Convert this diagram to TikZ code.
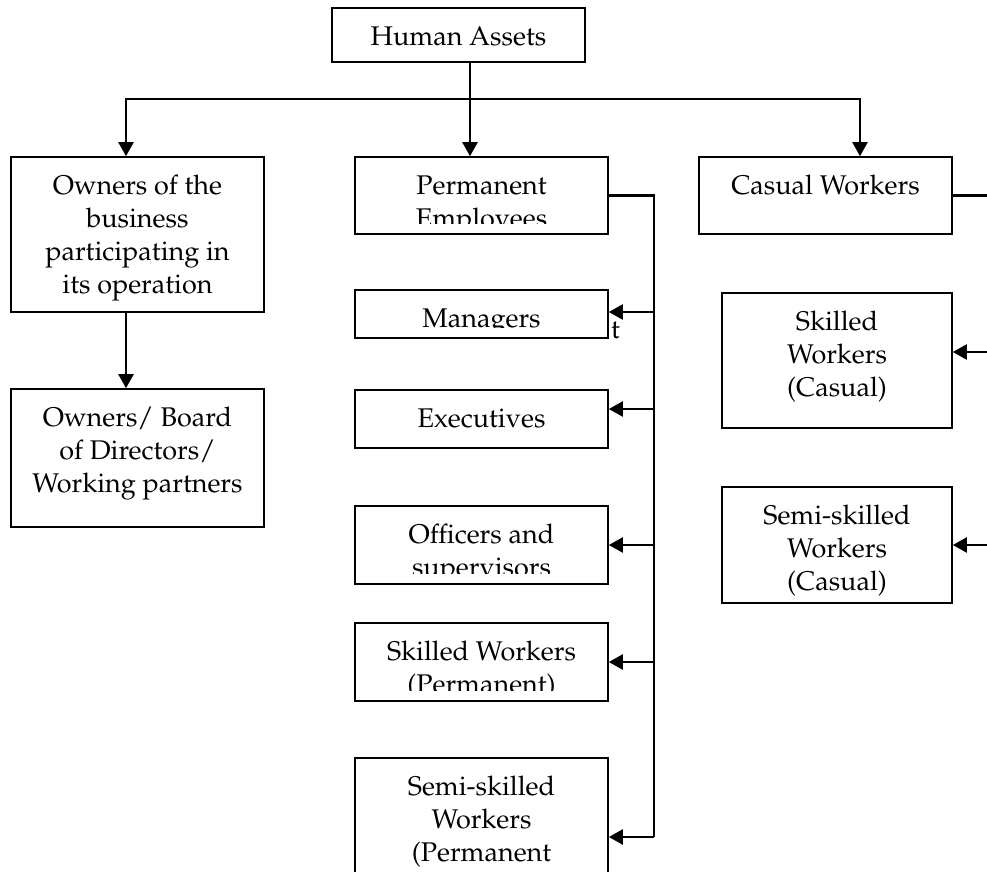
\documentclass[tikz,border=0pt]{standalone}
\usepackage[T1]{fontenc}
\usepackage{mathpazo}
\usetikzlibrary{arrows.meta}

\tikzset{
  box/.style={draw, line width=1.6pt, inner sep=0pt, minimum width=253pt},
  lbl/.style={anchor=north, align=center, inner sep=0pt, minimum width=0pt, minimum height=0pt,
      font=\fontsize{27}{33}\selectfont},
  txt/.style={path picture={\node[lbl] at ([yshift=-13.9pt]path picture bounding box.north) {\strut #1};}},
  cut/.style={path picture={\clip ([yshift=10.5pt]path picture bounding box.south west) rectangle (path picture bounding box.north east);
      \node[lbl] at ([yshift=-13.9pt]path picture bounding box.north) {\strut #1};}},
  conn/.style={line width=2.2pt},
  arr/.style={conn, -{Triangle[length=14pt,width=15pt]}},
}

\begin{document}
\begin{tikzpicture}[x=1pt, y=-1pt]
\useasboundingbox (0,0) rectangle (987,871);
\clip (0,0) rectangle (987,871);

% Boxes
\node[box, minimum height=54pt, txt={Human Assets}] (ha) at (458.5,35) {};
\node[box, minimum height=155pt, txt={Owners of the\\business\\participating in\\its operation}] (own) at (137.5,234.5) {};
\node[box, minimum height=138pt, txt={Owners/ Board\\of Directors/\\Working partners}] (board) at (137.5,458) {};
\node[box, minimum height=77pt, cut={Permanent\\Employees}] (perm) at (481.5,195.5) {};
\node[box, minimum height=48pt, cut={Managers}] (mgr) at (481.5,314) {};
\node[box, minimum height=58pt, txt={Executives}] (exe) at (481.5,419) {};
\node[box, minimum height=78pt, cut={Officers and\\supervisors}] (off) at (481.5,545) {};
\node[box, minimum height=78pt, cut={Skilled Workers\\(Permanent)}] (skp) at (481.5,662) {};
\node[box, minimum height=158pt, txt={Semi-skilled\\Workers\\(Permanent}] (ssp) at (481.5,837) {};
\node[box, minimum height=77pt, txt={Casual Workers}] (cas) at (825.5,195.5) {};
\node[box, minimum width=230pt, minimum height=135pt, txt={Skilled\\Workers\\(Casual)}] (skc) at (837,360.5) {};
\node[box, minimum width=230pt, minimum height=116pt, txt={Semi-skilled\\Workers\\(Casual)}] (ssc) at (837,545) {};
\node[lbl, anchor=base west] (stray) at (611,338) {t};

% Top level
\coordinate (busL) at (126,99);
\coordinate (busR) at (860,99);
\draw[conn, line cap=rect] (busL) -- (busR);
\draw[arr] ([xshift=11.5pt]ha.south) -- ([xshift=-11.5pt]perm.north);
\draw[arr] (busL) -- ([xshift=-11.5pt]own.north);
\draw[arr] (busR) -- ([xshift=34.5pt]cas.north);
\draw[arr] ([xshift=-11.5pt]own.south) -- ([xshift=-11.5pt]board.north);

% Permanent employees
\draw[conn] (perm.east) -| ([xshift=45pt]ssp.east);
\foreach \n/\s in {mgr/2,exe/10,off/0,skp/0,ssp/0}
  \draw[arr] ([xshift=45pt,yshift=\s pt]\n.east) -- ([yshift=\s pt]\n.east);

% Casual workers
\draw[conn] (cas.east) -| ([xshift=48pt]ssc.east);
\foreach \n/\s in {skc/8.5,ssc/0}
  \draw[arr] ([xshift=48pt,yshift=\s pt]\n.east) -- ([yshift=\s pt]\n.east);

\end{tikzpicture}
\end{document}
